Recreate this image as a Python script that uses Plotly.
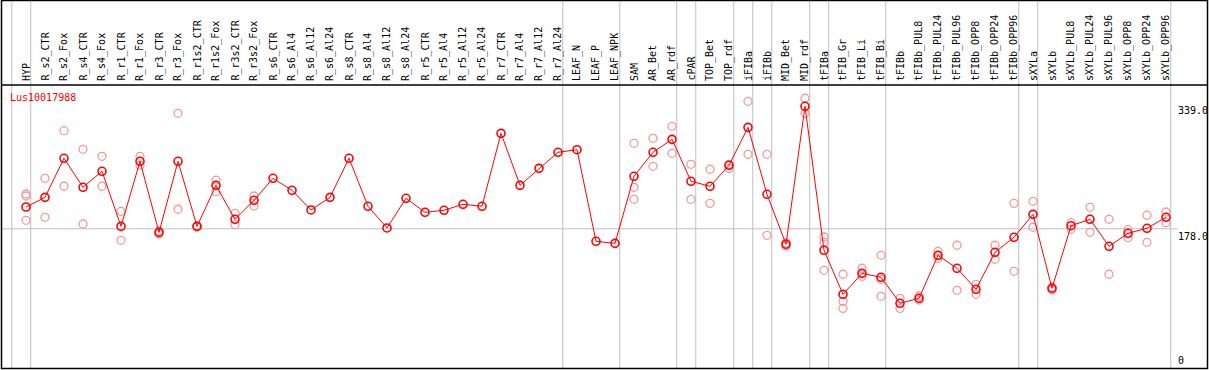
import plotly.graph_objects as go

# ---------------- data ----------------
categories = [
    "HYP", "R_s2_CTR", "R_s2_Fox", "R_s4_CTR", "R_s4_Fox", "R_r1_CTR", "R_r1_Fox",
    "R_r3_CTR", "R_r3_Fox", "R_r1s2_CTR", "R_r1s2_Fox", "R_r3s2_CTR", "R_r3s2_Fox",
    "R_s6_CTR", "R_s6_Al4", "R_s6_Al12", "R_s6_Al24", "R_s8_CTR", "R_s8_Al4",
    "R_s8_Al12", "R_s8_Al24", "R_r5_CTR", "R_r5_Al4", "R_r5_Al12", "R_r5_Al24",
    "R_r7_CTR", "R_r7_Al4", "R_r7_Al12", "R_r7_Al24", "LEAF_N", "LEAF_P", "LEAF_NPK",
    "SAM", "AR_Bet", "AR_rdf", "cPAR", "TOP_Bet", "TOP_rdf", "iFIBa", "iFIBb",
    "MID_Bet", "MID_rdf", "tFIBa", "tFIB_Gr", "tFIB_Li", "tFIB_Bi", "tFIBb",
    "tFIBb_PUL8", "tFIBb_PUL24", "tFIBb_PUL96", "tFIBb_OPP8", "tFIBb_OPP24",
    "tFIBb_OPP96", "sXYLa", "sXYLb", "sXYLb_PUL8", "sXYLb_PUL24", "sXYLb_PUL96",
    "sXYLb_OPP8", "sXYLb_OPP24", "sXYLb_OPP96",
]

mean_values = [
    205.9, 218.3, 268.4, 231.2, 251.7, 181.1, 264.5, 173.4, 264.5, 181.1,
    233.7, 190.1, 214.5, 242.7, 227.3, 202.1, 218.3, 268.4, 206.8, 179.0,
    217.1, 199.1, 201.7, 209.4, 206.8, 300.4, 233.7, 255.5, 276.1, 279.4,
    161.9, 159.3, 245.3, 276.1, 292.7, 238.9, 232.5, 259.4, 308.1, 222.2,
    158.1, 335.1, 150.4, 93.9, 120.8, 115.7, 82.4, 88.8, 143.9, 127.3,
    100.3, 147.8, 167.0, 196.5, 101.6, 181.9, 190.1, 155.5, 172.2, 178.6,
    192.7,
]

N = None
rep_a = [
    222.6, 242.7, 303.8, 279.9, 270.9, 200.4, 270.9, 175.1, 326.1, 181.7,
    240.5, 197.8, 220.0, N, N, N, N, N, N, N,
    N, N, N, N, N, N, N, N, N, N,
    N, N, 287.6, 294.0, 309.4, 260.7, 254.3, 260.7, 341.5, 273.5,
    159.7, 345.4, 167.4, 119.6, 127.3, 143.9, 88.8, 86.6, 149.1, 156.8,
    106.7, 156.8, 210.6, 213.2, 103.3, 185.8, 205.5, 190.1, 176.8, 195.3,
    199.5,
]
rep_b = [
    220.0, 192.7, 232.5, 184.1, 232.5, 163.2, 259.4, 171.3, 203.0, 180.4,
    225.5, 183.2, 207.2, N, N, N, N, N, N, N,
    N, N, N, N, N, N, N, N, N, N,
    N, N, 231.2, 258.1, 274.8, 215.8, 210.6, 255.5, 273.5, 169.6,
    155.9, 326.1, 160.6, 84.9, 117.0, 113.2, 75.9, 91.7, 140.1, 99.0,
    93.9, 138.8, 123.4, 179.9, 99.4, 177.3, 173.4, 119.6, 166.5, 160.6,
    185.8,
]
rep_c = [
    188.8, N, N, N, N, N, N, N, N, N,
    N, N, N, N, N, N, N, N, N, N,
    N, N, N, N, N, N, N, N, N, N,
    N, N, 215.8, N, N, N, N, N, N, N,
    N, N, 124.7, 75.9, N, 91.3, N, N, N, N,
    N, N, N, N, N, N, N, N, N, N,
    N,
]

group_breaks = [-1, 0, 28, 31, 34, 35, 37, 38, 39, 41, 42, 45, 52, 53, 60]
y_tick_values = [339, 178, 0]
y_tick_text = ["339.0", "178.0", "0"]
chart_title = "Lus10017988"

# ---------------- geometry ----------------
W, H = 1209, 370
X0_PX, STEP_PX = 26.0, 19.0          # pixel of first category, spacing
PLOT_TOP_PX, ZERO_PX = 85.0, 367.5   # header separator, value 0
PX_PER_UNIT = 0.7795

def px_x(px):
    return px / W

def px_y(py):
    return 1 - py / H

x_range = [(0 - X0_PX) / STEP_PX, (W - X0_PX) / STEP_PX]
y_top_val = (ZERO_PX - PLOT_TOP_PX) / PX_PER_UNIT

xs = list(range(len(categories)))

rx, ry = [], []
for reps in (rep_a, rep_b, rep_c):
    for i, v in enumerate(reps):
        if v is not None:
            rx.append(i)
            ry.append(v)

fig = go.Figure()
fig.add_trace(go.Scatter(
    x=rx, y=ry, mode="markers",
    marker=dict(symbol="circle-open", size=8, color="#f29a9a",
                line=dict(width=1.3, color="#f29a9a")),
    hoverinfo="skip", showlegend=False,
))
fig.add_trace(go.Scatter(
    x=xs, y=mean_values, mode="lines+markers",
    line=dict(color="#ff0000", width=1),
    marker=dict(symbol="circle-open", size=8, color="#ff0000",
                line=dict(width=1.6, color="#ff0000")),
    text=categories, showlegend=False,
))

shapes = []
for b in group_breaks:
    shapes.append(dict(type="line", xref="x", yref="paper",
                       x0=b + 0.25, x1=b + 0.25, y0=px_y(368), y1=1,
                       line=dict(color="#c0c0c0", width=1), layer="below"))
shapes.append(dict(type="line", xref="paper", yref="y",
                   x0=px_x(1), x1=px_x(1178), y0=178, y1=178,
                   line=dict(color="#c0c0c0", width=1), layer="below"))
shapes.append(dict(type="line", xref="paper", yref="paper",
                   x0=px_x(1), x1=px_x(1208), y0=px_y(85), y1=px_y(85),
                   line=dict(color="black", width=1.5)))
shapes.append(dict(type="rect", xref="paper", yref="paper",
                   x0=px_x(1.5), x1=px_x(1207.5), y0=px_y(368.5), y1=px_y(0.5),
                   line=dict(color="black", width=1.5)))

annotations = []
for i, c in enumerate(categories):
    annotations.append(dict(
        x=i, xref="x", y=px_y(83), yref="paper",
        text=c, showarrow=False, textangle=-90,
        xanchor="center", yanchor="bottom",
        font=dict(family="DejaVu Sans Mono", size=10, color="black"),
    ))
annotations.append(dict(
    x=px_x(8), xref="paper", y=px_y(97), yref="paper",
    text=chart_title, showarrow=False, xanchor="left", yanchor="middle",
    font=dict(family="DejaVu Sans Mono", size=10, color="#ff0000"),
))
for v, t in zip(y_tick_values, y_tick_text):
    annotations.append(dict(
        x=px_x(1176), xref="paper", y=v, yref="y",
        text=t, showarrow=False, xanchor="left",
        yanchor="bottom" if v == 0 else "top",
        font=dict(family="DejaVu Sans Mono", size=10, color="black"),
    ))

fig.update_layout(
    width=W, height=H,
    margin=dict(l=0, r=0, t=0, b=0),
    paper_bgcolor="white", plot_bgcolor="white",
    xaxis=dict(range=x_range, domain=[0, 1], visible=False, fixedrange=True),
    yaxis=dict(range=[0, y_top_val], domain=[px_y(ZERO_PX), px_y(PLOT_TOP_PX)],
               visible=False, fixedrange=True),
    shapes=shapes, annotations=annotations,
    showlegend=False,
)

fig.write_html("out.html",
               config={"displayModeBar": False},
               post_script="document.body.style.margin='0';document.body.style.padding='0';")
